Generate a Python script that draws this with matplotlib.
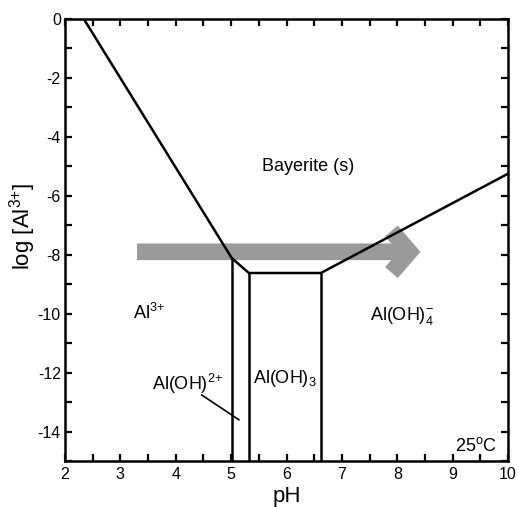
import matplotlib
matplotlib.use("Agg")
import matplotlib.pyplot as plt
from matplotlib.ticker import MultipleLocator

plt.rcParams["font.family"] = ["Liberation Sans", "DejaVu Sans"]
plt.rcParams["mathtext.fontset"] = "custom"
plt.rcParams["mathtext.rm"] = "Liberation Sans"
plt.rcParams["mathtext.it"] = "Liberation Sans"
plt.rcParams["mathtext.default"] = "regular"
plt.rcParams["axes.unicode_minus"] = False

# -- Phase boundaries (pH, log[Al3+]) --
bayerite_ph = [2.34, 5.01, 5.32, 6.62, 10.0]
bayerite_log = [0.0, -8.11, -8.62, -8.62, -5.25]

# vertical species boundaries: pH and the log value where they meet the solubility line
species_ph = [5.01, 5.32, 6.62]
species_top = [-8.11, -8.62, -8.62]

# region labels: text, pH, log value (left edge / baseline)
region_text = ["Bayerite (s)", "Al$^{3{+}}$", "Al(OH)$^{2{+}}$", "Al(OH)$_3$",
               "Al(OH)$_4^{-}$"]
region_ph = [5.56, 3.23, 3.57, 5.39, 7.5]
region_log = [-5.16, -10.18, -12.59, -12.35, -10.21]

# leader line for the narrow Al(OH)2+ field
leader_ph = [4.47, 5.14]
leader_log = [-12.76, -13.6]

# titration path arrow
arrow_ph = [3.3, 8.42]
arrow_log = -7.9

xmin, xmax = 2, 10
ymin, ymax = -15, 0

fig = plt.figure(figsize=(5.18, 5.07), dpi=100)
ax = fig.add_axes([0.1255, 0.0907, 0.8552, 0.8718])

ax.annotate("", xy=(arrow_ph[1], arrow_log), xytext=(arrow_ph[0], arrow_log),
            arrowprops=dict(arrowstyle="->,head_length=1.3,head_width=1.5",
                            lw=12, color="#9a9a9a", shrinkA=0, shrinkB=0,
                            joinstyle="miter", capstyle="butt"),
            zorder=1)

ax.plot(bayerite_ph, bayerite_log, color="black", lw=1.8,
        solid_joinstyle="miter", zorder=3)
ax.vlines(species_ph, ymin, species_top, color="black", lw=1.8, zorder=3)
ax.plot(leader_ph, leader_log, color="black", lw=1.2, zorder=3)

for txt, px, py in zip(region_text, region_ph, region_log):
    ax.text(px, py, txt, fontsize=13, ha="left", va="baseline", zorder=4)

ax.text(9.8, -14.66, "25$^{o}$C", fontsize=13, ha="right", va="baseline")

ax.set_xlim(xmin, xmax)
ax.set_ylim(ymin, ymax)
ax.xaxis.set_major_locator(MultipleLocator(1))
ax.xaxis.set_minor_locator(MultipleLocator(0.5))
ax.yaxis.set_major_locator(MultipleLocator(2))
ax.yaxis.set_minor_locator(MultipleLocator(1))
ax.tick_params(which="both", direction="in", top=True, right=True,
               length=5, width=1.6, labelsize=11.5)
ax.tick_params(axis="x", pad=4)
ax.tick_params(axis="y", pad=3)
for sp in ax.spines.values():
    sp.set_linewidth(1.8)

ax.set_xlabel("pH", fontsize=16, labelpad=3)
ax.set_ylabel("log [Al$^{3{+}}$]", fontsize=16)
ax.yaxis.set_label_coords(-0.062, 0.53)

fig.savefig("out.png", dpi=100)
